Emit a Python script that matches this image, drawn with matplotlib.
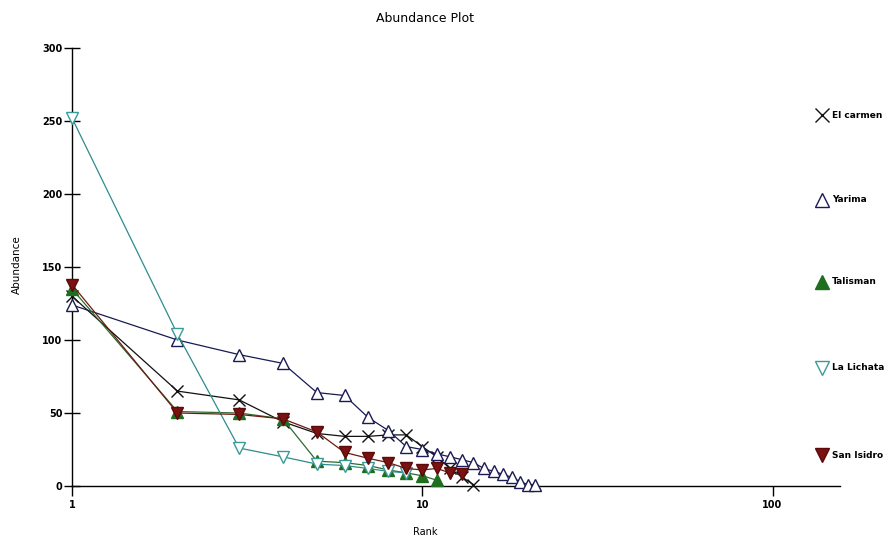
import matplotlib
matplotlib.use('Agg')
import matplotlib.pyplot as plt
from matplotlib.ticker import FixedLocator, NullLocator, FixedFormatter

# rank-abundance values
el_carmen = [130, 65, 59, 44, 36, 34, 34, 35, 35, 27, 20, 12, 6, 1]
yarima = [124, 100, 90, 84, 64, 62, 47, 38, 27, 25, 22, 20, 18, 16, 12, 10, 8, 6, 3, 1, 1]
talisman = [135, 51, 50, 46, 17, 16, 14, 11, 9, 7, 4]
la_lichata = [252, 104, 26, 20, 15, 14, 12, 10, 9]
san_isidro = [138, 50, 49, 46, 37, 23, 19, 16, 12, 11, 12, 9, 8]

names = ['El carmen', 'Yarima', 'Talisman', 'La Lichata', 'San Isidro']
series = [el_carmen, yarima, talisman, la_lichata, san_isidro]
markers = ['x', '^', '^', 'v', 'v']
faces = ['none', 'white', '#1F6E1F', 'white', '#7A1212']
edges = ['#111111', '#1A1A55', '#1F6E1F', '#3A9A9A', '#5A0A0A']
lines = ['#111111', '#1A1A55', '#2E6B2E', '#2F8C8C', '#6B1A12']

y_ticks = [0, 50, 100, 150, 200, 250, 300]
x_ticks = [1, 10, 100]

small = ['Liberation Sans Narrow', 'DejaVu Sans']

fig = plt.figure(figsize=(8.86, 5.4), dpi=100)
ax = fig.add_axes([0.0813, 0.1, 0.867, 0.811])

for vals, m, fc, ec, lc in zip(series, markers, faces, edges, lines):
    ranks = list(range(1, len(vals) + 1))
    ax.plot(ranks, vals, color=lc, linewidth=0.9, marker=m, markersize=9,
            markerfacecolor=fc, markeredgecolor=ec, markeredgewidth=1.0,
            clip_on=False, zorder=3)

ax.set_xscale('log')
ax.set_xlim(1, 156)
ax.set_ylim(0, 300)

ax.spines['top'].set_visible(False)
ax.spines['right'].set_visible(False)
ax.spines['left'].set_linewidth(1.0)
ax.spines['bottom'].set_linewidth(1.0)

ax.xaxis.set_major_locator(FixedLocator(x_ticks))
ax.xaxis.set_major_formatter(FixedFormatter([str(t) for t in x_ticks]))
ax.xaxis.set_minor_locator(NullLocator())
ax.set_yticks(y_ticks)
ax.set_yticklabels([str(t) for t in y_ticks])

ax.tick_params(axis='y', direction='inout', length=12, width=1.0, labelsize=7, pad=1)
ax.tick_params(axis='x', direction='out', length=7, width=1.0, labelsize=7, pad=3)
for lab in ax.get_xticklabels() + ax.get_yticklabels():
    lab.set_family(small)
    lab.set_fontweight('bold')

fig.text(425 / 886, 1 - 18 / 540, 'Abundance Plot', ha='center', va='center', fontsize=9)
fig.text(425 / 886, 1 - 532 / 540, 'Rank', ha='center', va='center', fontsize=7, family=small)
fig.text(17 / 886, 1 - 265 / 540, 'Abundance', ha='center', va='center', fontsize=7.5, rotation=90)

# legend entries spread down the right margin
leg_y = [115, 200, 282, 368, 455]
for name, m, fc, ec, yp in zip(names, markers, faces, edges, leg_y):
    fy = 1 - yp / 540
    fig.add_artist(plt.Line2D([822 / 886], [fy], transform=fig.transFigure, marker=m,
                              markersize=10, markerfacecolor=fc, markeredgecolor=ec,
                              markeredgewidth=1.0, linestyle='none'))
    fig.text(832 / 886, fy, name, ha='left', va='center', fontsize=6.5, family=small,
             fontweight='bold')

fig.savefig('out.png', dpi=100)
